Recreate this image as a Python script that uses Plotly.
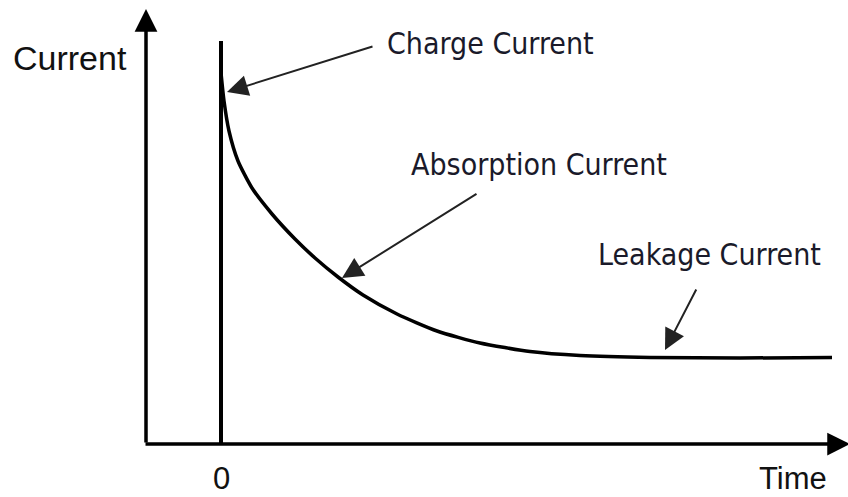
import plotly.graph_objects as go

# Curve data (time, current) in chart units; time 0 at the charge line
time = [0.00, 0.03, 0.08, 0.17, 0.31, 0.51, 0.74, 0.94, 1.17, 1.42, 1.76,
        2.16, 2.59, 3.09, 3.59, 4.29, 5.19, 6.11]
current = [3.70, 3.42, 3.12, 2.82, 2.55, 2.29, 2.04, 1.85, 1.66, 1.48, 1.29,
           1.12, 1.00, 0.915, 0.875, 0.855, 0.85, 0.855]

charge_top = 4.02
axis_x0 = -0.75
x_tip = 6.29
y_tip = 4.34

labels = ["Charge Current", "Absorption Current", "Leakage Current"]
label_pos = [(2.69, 4.00), (3.18, 2.79), (4.88, 1.89)]
arrow_tips = [(0.06, 3.51), (1.21, 1.65), (4.44, 0.93)]
arrow_tails = [(1.53, 3.97), (2.57, 2.50), (4.76, 1.55)]

tick_labels = ["0", "Time"]
tick_pos = [(0.0, -0.35), (5.72, -0.35)]
y_title = "Current"
y_title_pos = (-1.51, 3.85)

fig = go.Figure()

# charge line at t = 0
fig.add_trace(go.Scatter(x=[0, 0], y=[0, charge_top], mode="lines",
                         line=dict(color="black", width=4), hoverinfo="skip"))
# current curve
fig.add_trace(go.Scatter(x=time, y=current, mode="lines",
                         line=dict(color="black", width=3.5, shape="spline", smoothing=0.6),
                         hoverinfo="skip"))

annotations = []
# axes with arrowheads
annotations.append(dict(x=axis_x0, y=y_tip, ax=axis_x0, ay=-0.01, xref="x", yref="y",
                        axref="x", ayref="y", text="", showarrow=True, arrowhead=2,
                        arrowsize=1.3, arrowwidth=3.5, arrowcolor="black"))
annotations.append(dict(x=x_tip, y=-0.01, ax=axis_x0 - 0.02, ay=-0.01, xref="x", yref="y",
                        axref="x", ayref="y", text="", showarrow=True, arrowhead=2,
                        arrowsize=1.3, arrowwidth=3.5, arrowcolor="black"))

label_font = dict(family="Tahoma, DejaVu Sans Condensed, Liberation Sans", size=30, color="#1a1a2a")
for lab, (lx, ly), (tx, ty), (ax_, ay_) in zip(labels, label_pos, arrow_tips, arrow_tails):
    annotations.append(dict(x=tx, y=ty, ax=ax_, ay=ay_, xref="x", yref="y", axref="x",
                            ayref="y", text="", showarrow=True, arrowhead=2, arrowsize=2.1,
                            arrowwidth=2, arrowcolor="#222"))
    annotations.append(dict(x=lx, y=ly, xref="x", yref="y", text=lab, showarrow=False,
                            xanchor="center", yanchor="middle", font=label_font))

arial = dict(family="Arial, Liberation Sans", size=34, color="#111")
tick_font = dict(family="Arial, Liberation Sans", size=31, color="#111")
for t, (px, py) in zip(tick_labels, tick_pos):
    annotations.append(dict(x=px, y=py, xref="x", yref="y", text=t, showarrow=False,
                            xanchor="center", yanchor="middle", font=tick_font))
annotations.append(dict(x=y_title_pos[0], y=y_title_pos[1], xref="x", yref="y", text=y_title,
                        showarrow=False, xanchor="center", yanchor="middle", font=arial))

fig.update_layout(
    width=848, height=497,
    margin=dict(l=0, r=0, t=0, b=0),
    paper_bgcolor="white", plot_bgcolor="white",
    showlegend=False,
    annotations=annotations,
    xaxis=dict(range=[-2.21, 6.27], visible=False, fixedrange=True),
    yaxis=dict(range=[-0.54, 4.43], visible=False, fixedrange=True),
)

fig.write_html("out.html", config={"displayModeBar": False},
               post_script="document.body.style.margin='0';")
